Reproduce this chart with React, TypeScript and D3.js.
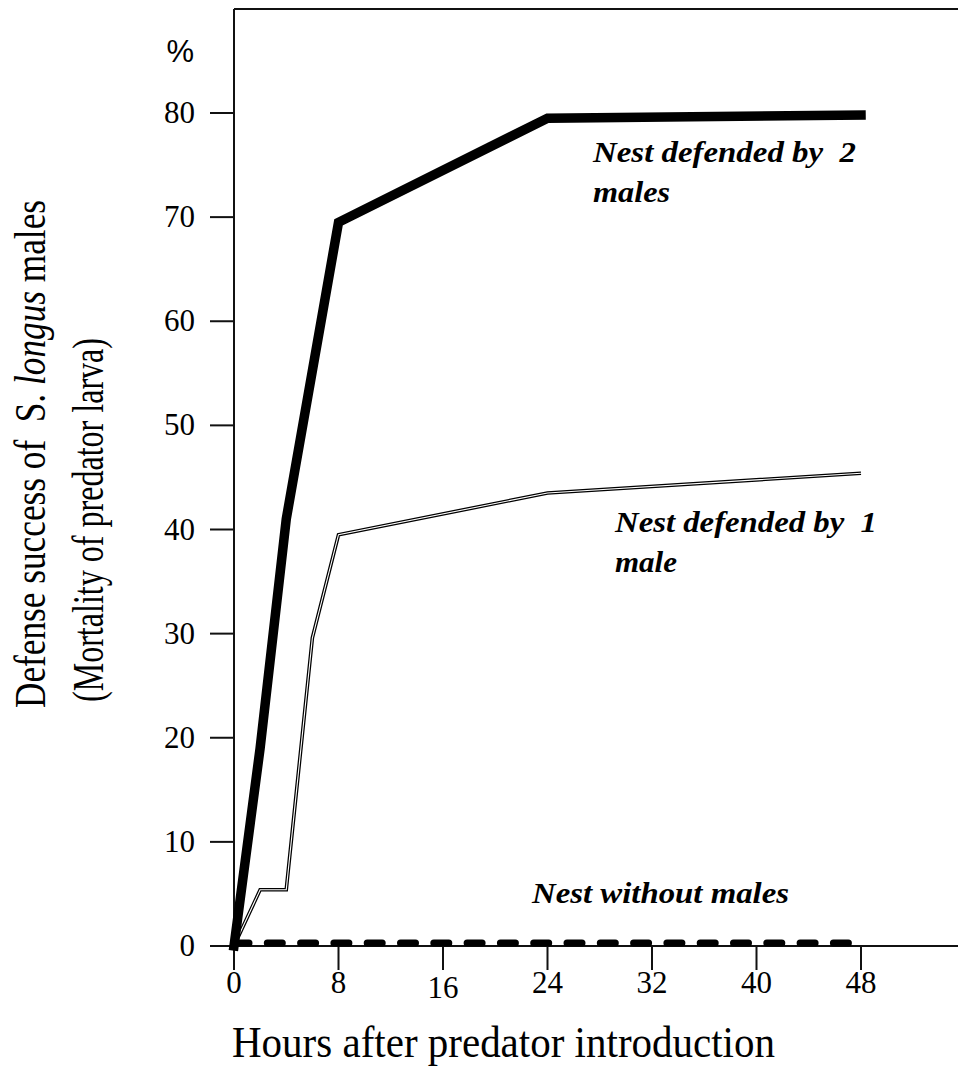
import React from 'react';
import * as d3 from 'd3';

// x ticks are evenly spaced even though the hours are not
const hourTicks = [0, 8, 16, 24, 32, 40, 48];
const pctTicks = [0, 10, 20, 30, 40, 50, 60, 70, 80];

const twoMales = [
  { h: 0, v: 0 },
  { h: 2, v: 19 },
  { h: 4, v: 41 },
  { h: 8, v: 69.5 },
  { h: 24, v: 79.5 },
  { h: 48, v: 79.8 },
];

const oneMale = [
  { h: 0, v: 0 },
  { h: 2, v: 5.4 },
  { h: 4, v: 5.4 },
  { h: 6, v: 29.6 },
  { h: 8, v: 39.5 },
  { h: 24, v: 43.5 },
  { h: 48, v: 45.4 },
];

const noMales = [
  { h: 0, v: 0.3 },
  { h: 48, v: 0.3 },
];

const W = 958;
const H = 1068;
const serif = 'Liberation Serif, Times New Roman, serif';
const NB = '\u00a0';

const App: React.FC = () => {
  const x0 = 234;
  const step = 104.5;
  const x = d3.scaleLinear()
    .domain(hourTicks)
    .range(hourTicks.map((_, i) => x0 + i * step));
  const y = d3.scaleLinear().domain([0, 80]).range([946, 113]);

  const line = d3.line<{ h: number; v: number }>()
    .x(d => x(d.h))
    .y(d => y(d.v));

  const yBase = y(0);

  return (
    <div style={{ position: 'absolute', left: 0, top: 0 }}>
      <svg width={W} height={H} style={{ display: 'block', background: '#fff' }}>
        {/* frame: top border, y axis, x axis */}
        <line x1={x0} x2={W} y1={9} y2={9} stroke="#111" strokeWidth={2} />
        <line x1={x0} x2={x0} y1={9} y2={yBase} stroke="#111" strokeWidth={2} />
        <line x1={x0 - 24} x2={W} y1={yBase} y2={yBase} stroke="#111" strokeWidth={2} />

        {pctTicks.map(t => (
          <g key={'y' + t}>
            <line x1={x0 - 24} x2={x0} y1={y(t)} y2={y(t)} stroke="#111" strokeWidth={2} />
            <text x={195} y={y(t) + 10} textAnchor="end" fontFamily={serif} fontSize={31}>{t}</text>
          </g>
        ))}
        <text x={194} y={62} textAnchor="end" fontFamily="Liberation Sans, Arial, sans-serif" fontSize={31}>%</text>

        {hourTicks.map(t => (
          <g key={'x' + t}>
            <line x1={x(t)} x2={x(t)} y1={yBase} y2={yBase + 24} stroke="#111" strokeWidth={2} />
            <text x={x(t)} y={t === 16 ? 998 : 993} textAnchor="middle" fontFamily={serif} fontSize={31}>{t}</text>
          </g>
        ))}

        {/* series */}
        <path d={line(noMales) || ''} fill="none" stroke="#000" strokeWidth={7}
          strokeDasharray="15 18.3" strokeLinecap="round" />
        <path d={line(oneMale) || ''} fill="none" stroke="#000" strokeWidth={3.6} strokeLinejoin="miter" />
        <path d={line(oneMale) || ''} fill="none" stroke="#fff" strokeWidth={1.1} strokeLinejoin="miter" />
        <path d={line(twoMales) || ''} fill="none" stroke="#000" strokeWidth={9.5}
          strokeLinejoin="miter" strokeLinecap="square" />

        {/* series labels */}
        <g fontFamily={serif} fontSize={30} fontWeight="bold" fontStyle="italic">
          <text x={593} y={162} textLength={263} lengthAdjust="spacingAndGlyphs">{`Nest defended by${NB} 2`}</text>
          <text x={593} y={202} textLength={77} lengthAdjust="spacingAndGlyphs">males</text>
          <text x={615} y={532} textLength={262} lengthAdjust="spacingAndGlyphs">{`Nest defended by${NB} 1`}</text>
          <text x={615} y={572} textLength={62} lengthAdjust="spacingAndGlyphs">male</text>
          <text x={532} y={903} textLength={257} lengthAdjust="spacingAndGlyphs">Nest without males</text>
        </g>

        {/* axis titles */}
        <text x={232} y={1057} fontFamily={serif} fontSize={45} textLength={543} lengthAdjust="spacingAndGlyphs">
          Hours after predator introduction
        </text>
        <g fontFamily={serif} fontSize={45}>
          <text transform="translate(45,708) rotate(-90)" textLength={508} lengthAdjust="spacingAndGlyphs">
            {`Defense success of${NB} S. `}<tspan fontStyle="italic">longus</tspan>{' males'}
          </text>
          <text transform="translate(103,702) rotate(-90)" textLength={364} lengthAdjust="spacingAndGlyphs">
            (Mortality of predator larva)
          </text>
        </g>
      </svg>
    </div>
  );
};

export default App;
